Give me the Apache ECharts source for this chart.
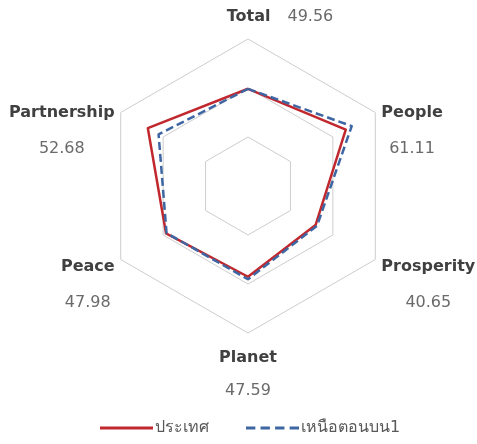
<!DOCTYPE html>
<html>
<head>
<meta charset="utf-8">
<script src="https://cdn.jsdelivr.net/npm/echarts@6/dist/echarts.min.js"></script>
<style>
html,body{margin:0;padding:0;background:#fff;}
#c{width:477px;height:444px;}
</style>
</head>
<body>
<div id="c"></div>
<script>
// Indicators in the reference's clockwise order, starting at the top
const indicatorNames = ['Total', 'People', 'Prosperity', 'Planet', 'Peace', 'Partnership'];
const indicatorLabels = ['49.56', '61.11', '40.65', '47.59', '47.98', '52.68'];
const seriesNames = ['ประเทศ', 'เหนือตอนบน1'];
const countryValues = [49.6, 57.6, 39.8, 46.3, 48.3, 59.0];
const regionValues = [49.56, 61.11, 40.65, 47.59, 47.98, 52.68];
const axisMax = 75;

// ECharts lays indicators counterclockwise; reorder to get the clockwise layout
const order = [0, 5, 4, 3, 2, 1];
const pick = arr => order.map(i => arr[i]);

const FONT = '"DejaVu Sans", "Noto Sans", sans-serif';

const chart = echarts.init(document.getElementById('c'), null, {renderer: 'canvas'});
chart.setOption({
  backgroundColor: '#ffffff',
  animation: false,
  legend: {
    bottom: 3,
    left: 95,
    itemWidth: 53,
    itemHeight: 3,
    itemGap: 37,
    symbolKeepAspect: false,
    textStyle: {color: '#595959', fontSize: 16, fontFamily: FONT, padding: [0, 0, 0, -3]},
    data: [
      {name: seriesNames[0], icon: 'path://M0,0H53V3H0Z'},
      {name: seriesNames[1], icon: 'path://M0,0H9V3H0Z M14,0H23V3H14Z M28,0H37V3H28Z M42,0H51V3H42Z'}
    ]
  },
  radar: {
    center: [248, 186],
    radius: 147,
    shape: 'polygon',
    splitNumber: 3,
    nameGap: 7,
    indicator: pick(indicatorNames).map(n => ({name: n, min: 0, max: axisMax})),
    axisLine: {show: false},
    splitArea: {show: false},
    splitLine: {lineStyle: {color: '#cdcdcd', width: 1}},
    axisName: {
      fontFamily: FONT,
      formatter: function (name) {
        const idx = indicatorNames.indexOf(name);
        const val = indicatorLabels[idx];
        if (name === 'Total') {
          return '{pad| }{n|' + name + '}{tv|' + val + '}\n{s5| }';
        }
        if (name === 'Planet') {
          return '{s8| }\n{n|' + name + '}\n{vp|' + val + '}';
        }
        return '{s60| }\n{n|' + name + '}\n{vs|' + val + '}';
      },
      rich: {
        n: {fontSize: 16, fontWeight: 'bold', color: '#404040', lineHeight: 20, fontFamily: FONT},
        tv: {fontSize: 16, color: '#6a6a6a', lineHeight: 20, padding: [0, 0, 0, 17], fontFamily: FONT},
        vs: {fontSize: 16, color: '#6a6a6a', lineHeight: 52, align: 'center', fontFamily: FONT},
        vp: {fontSize: 16, color: '#6a6a6a', lineHeight: 46, align: 'center', fontFamily: FONT},
        pad: {width: 64, fontSize: 1, lineHeight: 20},
        s5: {fontSize: 1, lineHeight: 5},
        s8: {fontSize: 1, lineHeight: 8},
        s60: {fontSize: 1, lineHeight: 60}
      }
    }
  },
  series: [{
    type: 'radar',
    symbol: 'none',
    data: [
      {
        name: seriesNames[0],
        value: pick(countryValues),
        itemStyle: {color: '#c0282e'},
        lineStyle: {color: '#c0282e', width: 2.5, type: 'solid'}
      },
      {
        name: seriesNames[1],
        value: pick(regionValues),
        itemStyle: {color: '#3d66a3'},
        lineStyle: {color: '#3d66a3', width: 2.5, type: [8, 4]}
      }
    ]
  }]
});
</script>
</body>
</html>
